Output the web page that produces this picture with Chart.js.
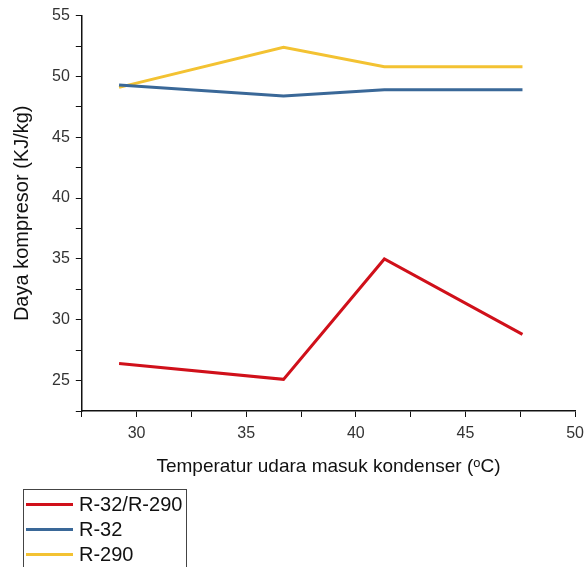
<!DOCTYPE html>
<html lang="id">
<head>
<meta charset="UTF-8">
<title>Daya kompresor</title>
<script src="https://cdn.jsdelivr.net/npm/chart.js@4.4.1/dist/chart.umd.min.js"></script>
<style>
  html, body { margin: 0; padding: 0; background: #fff; overflow: hidden; }
  .wrap { position: relative; width: 584px; height: 567px; overflow: hidden; }
  #legend {
    position: absolute; left: 23px; top: 489px; width: 164px; height: 100px;
    border: 1px solid #444; box-sizing: border-box;
    font-family: "Liberation Sans", Arial, sans-serif; font-size: 20px; color: #111;
  }
  .row { position: absolute; left: 2px; height: 24px; display: flex; align-items: center; }
  .row .ln { display: inline-block; width: 47px; height: 3px; margin-right: 6px; }
</style>
</head>
<body>
<div class="wrap">
  <canvas id="chart" width="591" height="567"></canvas>
  <div id="legend"></div>
</div>
<script>
  // Temperatur udara masuk kondenser (oC)
  const suhu = [29.2, 36.7, 41.3, 47.6];
  const seriesNames = ['R-32/R-290', 'R-32', 'R-290'];
  const r32r290 = [26.4, 25.1, 35.0, 28.8];
  const r32 = [49.3, 48.4, 48.9, 48.9];
  const r290 = [49.1, 52.4, 50.8, 50.8];
  const colors = ['#d0101a', '#3a6898', '#f3c232'];

  const font = "'Liberation Sans', Arial, sans-serif";

  function pts(vals) {
    return suhu.map((x, i) => ({ x: x, y: vals[i] }));
  }

  const datasets = [r32r290, r32, r290].map((vals, i) => ({
    label: seriesNames[i],
    data: pts(vals),
    borderColor: colors[i],
    backgroundColor: colors[i],
    borderWidth: 3,
    pointRadius: 0,
    tension: 0,
    fill: false
  }));

  const ctx = document.getElementById('chart').getContext('2d');
  new Chart(ctx, {
    type: 'line',
    data: { datasets: datasets },
    options: {
      responsive: false,
      animation: false,
      layout: { padding: { left: 10, right: 0, top: 12, bottom: 89 } },
      plugins: {
        legend: { display: false },
        tooltip: { enabled: false }
      },
      scales: {
        x: {
          type: 'linear',
          min: 27.5,
          max: 50,
          border: { color: '#111', width: 1.5 },
          grid: { drawOnChartArea: false, drawTicks: true, tickLength: 6, color: '#111' },
          ticks: {
            stepSize: 2.5,
            autoSkip: false,
            maxRotation: 0,
            color: '#333',
            font: { family: font, size: 16 },
            padding: 7,
            callback: v => (v % 5 === 0 ? v : '')
          },
          title: {
            display: true,
            text: 'Temperatur udara masuk kondenser (\u1D52C)',
            color: '#111',
            font: { family: font, size: 19 },
            padding: { top: 5, bottom: 0 }
          }
        },
        y: {
          min: 22.5,
          max: 55,
          border: { color: '#111', width: 1.5 },
          grid: { drawOnChartArea: false, drawTicks: true, tickLength: 6, color: '#111' },
          ticks: {
            stepSize: 2.5,
            autoSkip: false,
            color: '#333',
            font: { family: font, size: 16 },
            padding: 6,
            callback: v => (v % 5 === 0 ? v : '')
          },
          title: {
            display: true,
            text: 'Daya kompresor (KJ/kg)',
            color: '#111',
            font: { family: font, size: 20 },
            padding: { top: 0, bottom: 12 }
          }
        }
      }
    }
  });

  // legend box below the chart
  const legend = document.getElementById('legend');
  seriesNames.forEach((name, i) => {
    const row = document.createElement('div');
    row.className = 'row';
    row.style.top = (2 + i * 25) + 'px';
    row.innerHTML = '<span class="ln" style="background:' + colors[i] + '"></span>' + name;
    legend.appendChild(row);
  });
</script>
</body>
</html>
